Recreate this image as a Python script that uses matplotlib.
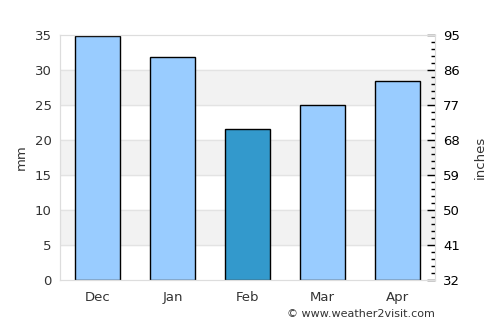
import matplotlib
matplotlib.use('Agg')
import matplotlib.pyplot as plt
import numpy as np

meses = ['Dec', 'Jan', 'Feb', 'Mar', 'Apr']
lluvia_mm = [34.8, 31.8, 21.6, 25.0, 28.4]
destacado = 'Feb'
ticks_mm = [0, 5, 10, 15, 20, 25, 30, 35]
etiquetas_der = ['32', '41', '50', '59', '68', '77', '86', '95']

COLOR_BARRA = '#99ccff'
COLOR_DESTACADO = '#3399cc'
COLOR_TEXTO = '#333333'
COLOR_MARCO = '#dddddd'

fig = plt.figure(figsize=(5, 3.25), dpi=100)
ax = fig.add_axes([0.12, 0.1385, 0.75, 0.7538])

# bandas alternas
for i in range(len(ticks_mm) - 1):
    if i % 2 == 1:
        ax.axhspan(ticks_mm[i], ticks_mm[i + 1], color='#f2f2f2', zorder=0)
for t in ticks_mm[1:-1]:
    ax.axhline(t, color='#e3e3e3', linewidth=1, zorder=0.5)

x = np.arange(len(meses))
colores = [COLOR_DESTACADO if m == destacado else COLOR_BARRA for m in meses]
ax.bar(x, lluvia_mm, width=0.6, color=colores, edgecolor='black',
       linewidth=1, zorder=2)

ax.set_xlim(-0.5, len(meses) - 0.5)
ax.set_ylim(0, 35)
ax.set_xticks(x)
ax.set_xticklabels(meses)
ax.set_yticks(ticks_mm)
ax.tick_params(axis='both', length=0, labelsize=9.5, colors=COLOR_TEXTO, pad=6)
ax.tick_params(axis='x', pad=8)
ax.set_ylabel('mm', fontsize=9.5, color=COLOR_TEXTO, labelpad=5)
for s in ax.spines.values():
    s.set_color(COLOR_MARCO)

ax2 = ax.twinx()
ax2.set_ylim(0, 35)
ax2.set_yticks(ticks_mm)
ax2.set_yticklabels(etiquetas_der)
ax2.set_yticks(np.arange(0, 36, 1), minor=True)
ax2.tick_params(axis='y', which='major', direction='in', length=6,
                width=1, color='black', labelsize=9.5, labelcolor='black', pad=6)
ax2.tick_params(axis='y', which='minor', direction='in', length=3,
                width=1, color='black')
ax2.set_ylabel('inches', fontsize=9.5, color=COLOR_TEXTO, labelpad=10)
for s in ax2.spines.values():
    s.set_color(COLOR_MARCO)

fig.text(0.87, 0.035, '\u00a9 www.weather2visit.com', ha='right', va='center',
         fontsize=8, color=COLOR_TEXTO)

fig.savefig('out.png', dpi=100)
